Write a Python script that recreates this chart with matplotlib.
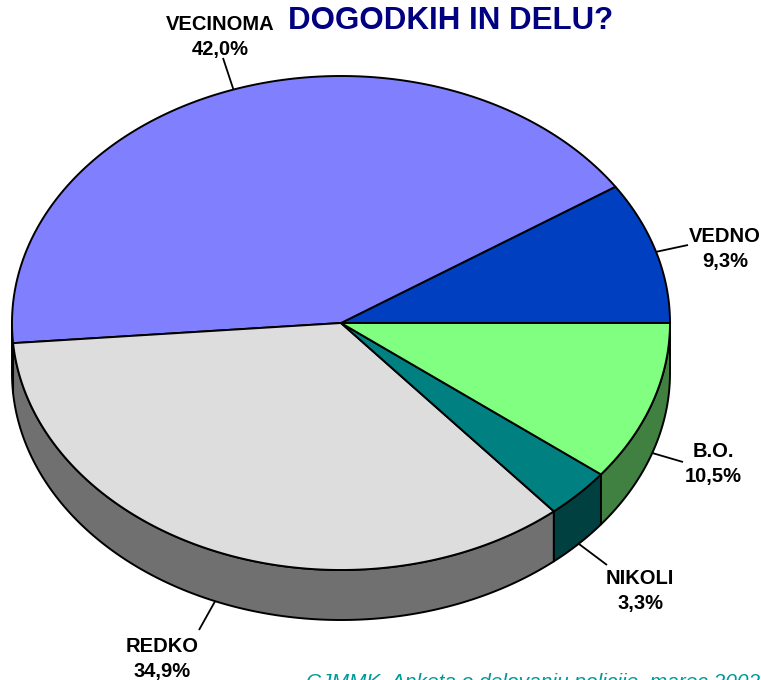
import numpy as np
import matplotlib
matplotlib.use("Agg")
import matplotlib.pyplot as plt
from matplotlib.patches import Polygon

# ---- data ----
categories = ["VEDNO", "VECINOMA", "REDKO", "NIKOLI", "B.O."]
values = [9.3, 42.0, 34.9, 3.3, 10.5]
pct_labels = ["9,3%", "42,0%", "34,9%", "3,3%", "10,5%"]
title = "DOGODKIH IN DELU?"
source = "CJMMK, Anketa o delovanju policije, marec 2002"

# ---- style / layout ----
top_colors = ["#0040C0", "#8080FF", "#DDDDDD", "#008080", "#80FF80"]
side_colors = ["#002060", "#404080", "#707070", "#004040", "#408040"]
cx, cy, a, b, depth = 341, 323, 329, 247, 50
# label positions (x center, baseline of name) and leader line outer ends
label_pos = [(725, 242), (220, 30), (162, 652), (640, 584), (713, 457)]
leader_end = [(688, 245), (223, 58), (199, 630), (607, 565), (683, 462)]

W, H = 761, 680
fig = plt.figure(figsize=(W / 100, H / 100), dpi=100)
ax = fig.add_axes([0, 0, 1, 1])
ax.set_xlim(0, W)
ax.set_ylim(H, 0)
ax.axis("off")

fs = 14.5
font = "Liberation Sans"


def pt(t, dy=0.0):
    return cx + a * np.cos(t), cy - b * np.sin(t) + dy


total = sum(values)
bounds = np.concatenate([[0], np.cumsum(values)]) / total * 2 * np.pi
lw = 1.4

# side faces (front half only)
for i in range(len(values)):
    t0, t1 = bounds[i], bounds[i + 1]
    s0, s1 = max(t0, np.pi), min(t1, 2 * np.pi)
    if s1 <= s0:
        continue
    ts = np.linspace(s0, s1, 200)
    xs, ys = pt(ts)
    top = np.column_stack([xs, ys])
    bot = np.column_stack([xs, ys + depth])[::-1]
    ax.add_patch(Polygon(np.vstack([top, bot]), closed=True,
                         facecolor=side_colors[i], edgecolor="black",
                         linewidth=lw, joinstyle="round", zorder=2))

# top faces
for i in range(len(values)):
    t0, t1 = bounds[i], bounds[i + 1]
    ts = np.linspace(t0, t1, 400)
    xs, ys = pt(ts)
    verts = np.vstack([[cx, cy], np.column_stack([xs, ys])])
    ax.add_patch(Polygon(verts, closed=True, facecolor=top_colors[i],
                         edgecolor="black", linewidth=lw,
                         joinstyle="round", zorder=3))

# labels with leader lines
for i in range(len(values)):
    mid = (bounds[i] + bounds[i + 1]) / 2
    front = np.sin(mid) < 0
    x0, y0 = pt(mid, depth if front else 0)
    x1, y1 = leader_end[i]
    ax.plot([x0, x1], [y0, y1], color="black", lw=1.3, zorder=4,
            solid_capstyle="butt")
    lx, ly = label_pos[i]
    ax.text(lx, ly, categories[i], ha="center", va="baseline",
            fontsize=fs, fontweight="bold", family=font, zorder=5)
    ax.text(lx, ly + 25, pct_labels[i], ha="center", va="baseline",
            fontsize=fs, fontweight="bold", family=font, zorder=5)

# title and source
ax.text(451, 29, title, ha="center", va="baseline", fontsize=22.5,
        fontweight="bold", color="#000080", family=font)
ax.text(306, 688, source, ha="left", va="baseline", fontsize=15,
        style="italic", color="#009999", family=font)

fig.savefig("out.png", dpi=100)
